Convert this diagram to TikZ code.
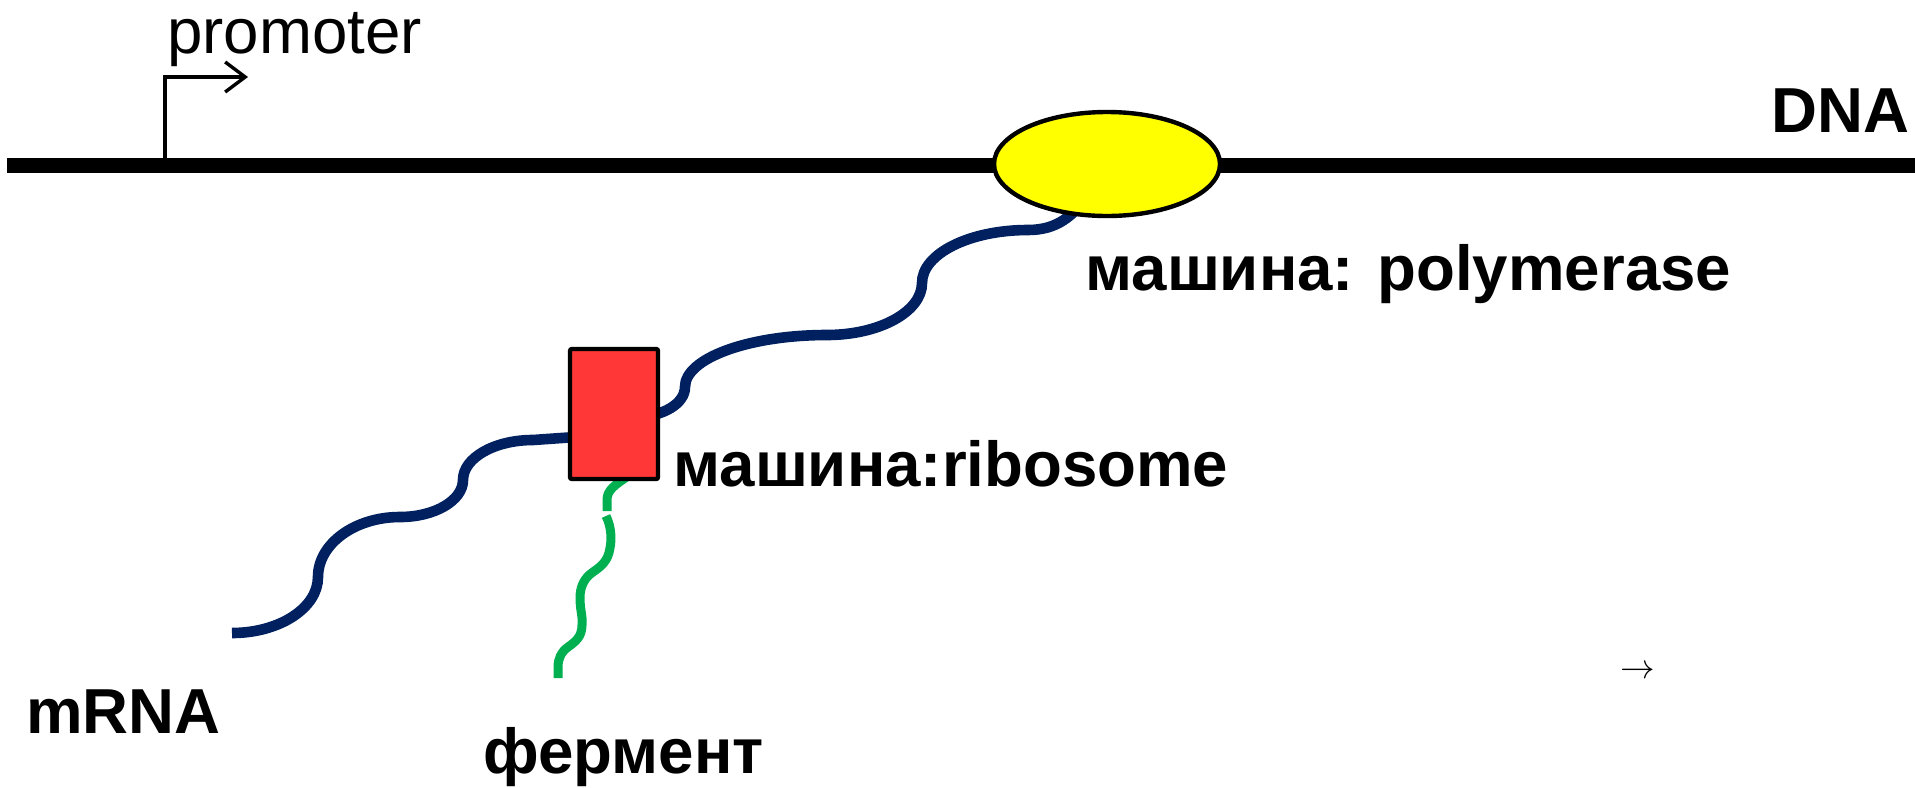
\documentclass[tikz,border=0pt]{standalone}
\usepackage{fontspec}
\setmainfont{Liberation Sans}
\usetikzlibrary{arrows.meta,shapes.geometric}
\definecolor{rnanavy}{HTML}{002060}
\definecolor{chaingreen}{HTML}{00B050}
\definecolor{ribored}{HTML}{FF3737}
\definecolor{polyyellow}{HTML}{FFFF00}
\tikzset{
  lbl/.style={anchor=base west, inner sep=0pt, font=\fontsize{31.8}{38}\selectfont\bfseries},
  plainlbl/.style={anchor=base west, inner sep=0pt, font=\fontsize{31.8}{38}\selectfont},
  dnaline/.style={line width=7.5pt, black},
  rna/.style={line width=5.3pt, rnanavy},
  chain/.style={line width=4.5pt, chaingreen},
  machine/.style={draw=black, line width=2.2pt}
}
\begin{document}
\begin{tikzpicture}[x=0.5pt, y=-0.5pt]
  \useasboundingbox (0,0) rectangle (1915,787);

  % DNA strand
  \coordinate (dnaL) at (7,165);
  \coordinate (dnaR) at (1915,165);
  \draw[dnaline] (dnaL) -- (dnaR);
  \node[lbl] (dna) at (1771,132) {DNA};

  % promoter arrow
  \coordinate (promBase) at (165,161);
  \coordinate (promCorner) at (165,77);
  \coordinate (promTip) at (248,77);
  \draw[line width=1.7pt, -{Straight Barb[length=10pt, width=15pt, line width=1.7pt]}]
    (promBase) -- (promCorner) -- (promTip);
  \node[plainlbl] (promoter) at (167,53) {promoter};

  % mRNA, lower part (before the ribosome)
  \coordinate (m0) at (232,633);
  \coordinate (m1) at (318,577);
  \coordinate (m2) at (400,517);
  \coordinate (m3) at (463,480);
  \coordinate (m4) at (533,440);
  \coordinate (m5) at (590,436);
  \draw[rna] (m0) .. controls (279.5,633) and (318,607.9) .. (m1)
                  .. controls (318,543.9) and (354.7,517) .. (m2)
                  .. controls (434.8,517) and (463,500.4) .. (m3)
                  .. controls (463,457.9) and (494.4,440) .. (m4)
                  -- (m5);

  % mRNA, upper part (ribosome to polymerase)
  \coordinate (u0) at (635,417);
  \coordinate (u1) at (685,387);
  \coordinate (u2) at (827,335);
  \coordinate (u3) at (922,283);
  \coordinate (u4) at (1028,230);
  \coordinate (u5) at (1085,200);
  \draw[rna] (u0) .. controls (662.6,417) and (685,403.6) .. (u1)
                  .. controls (685,358.3) and (748.6,335) .. (u2)
                  .. controls (879.4,335) and (922,311.7) .. (u3)
                  .. controls (922,253.7) and (969.5,230) .. (u4)
                  .. controls (1058,230) and (1072,215) .. (u5);

  % growing polypeptide chain
  \coordinate (g0) at (628,476);
  \coordinate (g1) at (607,500);
  \coordinate (g2) at (607,511);
  \draw[chain] (g0) .. controls (615,485) and (607,490) .. (g1) -- (g2);
  \coordinate (h0) at (606,516);
  \coordinate (h1) at (610,548);
  \coordinate (h2) at (593,572);
  \coordinate (h3) at (580,598);
  \coordinate (h4) at (582,625);
  \coordinate (h5) at (568,647);
  \coordinate (h6) at (558,667);
  \coordinate (h7) at (558,678);
  \draw[chain] (h0) .. controls (611,526) and (612,538) .. (h1)
                    .. controls (608,562) and (600,567) .. (h2)
                    .. controls (584,578) and (580,587) .. (h3)
                    .. controls (580,610) and (583,617) .. (h4)
                    .. controls (582,637) and (575,642) .. (h5)
                    .. controls (561,652) and (558,659) .. (h6)
                    -- (h7);

  % polymerase on the DNA
  \node[machine, fill=polyyellow, ellipse, minimum width=113pt, minimum height=52pt,
        inner sep=0pt] (pol) at (1107,164) {};

  % ribosome on the mRNA
  \node[machine, fill=ribored, rectangle, rounded corners=1pt, minimum width=44pt,
        minimum height=65pt, inner sep=0pt] (ribo) at (614,414) {};

  % labels
  \node[lbl] (polLabel) at (1085,290) {машина: polymerase};
  \node[lbl] (riboLabel) at (673,486) {машина:ribosome};
  \node[lbl] (mrnaLabel) at (26,733) {mRNA};
  \node[lbl] (chainLabel) at (483,773) {фермент};
  \node[anchor=base west, inner sep=0pt, font=\fontsize{16}{19}\selectfont] (arrowMark) at (1620,678) {$\rightarrow$};
\end{tikzpicture}
\end{document}
